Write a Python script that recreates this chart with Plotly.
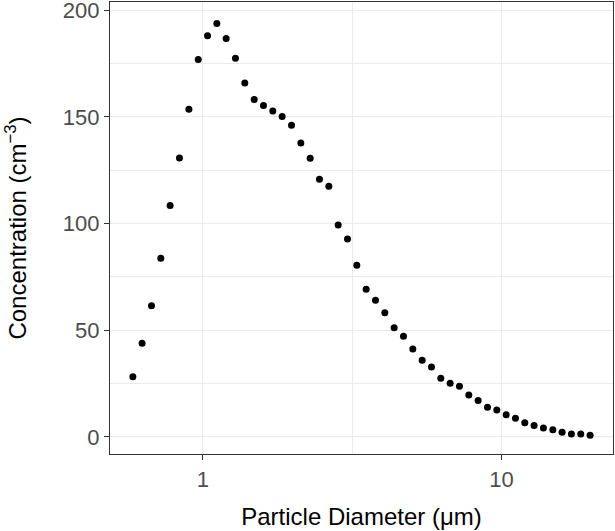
"""
Distribución de tamaño de partículas (APS) — scatter con eje x logarítmico.
"""
import plotly.graph_objects as go

# ── Datos ────────────────────────────────────────────────────────────────────
diameter_um = [
    0.583, 0.626, 0.673, 0.723, 0.777, 0.835, 0.898, 0.965, 1.037, 1.114,
    1.197, 1.286, 1.382, 1.486, 1.596, 1.715, 1.843, 1.981, 2.129, 2.288,
    2.458, 2.642, 2.839, 3.051, 3.278, 3.523, 3.786, 4.068, 4.371, 4.698,
    5.048, 5.425, 5.829, 6.264, 6.732, 7.234, 7.774, 8.354, 8.977, 9.647,
    10.37, 11.14, 11.97, 12.86, 13.82, 14.86, 15.96, 17.15, 18.43, 19.81,
]
concentration = [
    28.2, 43.9, 61.5, 83.7, 108.5, 130.7, 153.6, 176.9, 188.0, 193.7,
    186.7, 177.5, 165.9, 158.1, 155.3, 152.7, 150.2, 146.1, 137.7, 130.6,
    120.8, 117.5, 99.3, 92.8, 80.4, 69.2, 64.1, 58.2, 51.2, 47.2,
    41.2, 35.9, 32.8, 27.5, 25.1, 23.7, 19.7, 17.1, 13.9, 12.6,
    10.4, 8.7, 6.7, 5.3, 4.2, 3.4, 2.2, 1.4, 1.4, 0.8,
]
x_ticks = [1, 10]
y_ticks = [0, 50, 100, 150, 200]

# ── Estilo (tipo theme_bw) ───────────────────────────────────────────────────
C = {
    "point":  "#000000",
    "border": "#333333",
    "grid":   "#EBEBEB",
    "tick":   "#4D4D4D",
    "title":  "#000000",
}
FONT = "Liberation Sans, Arial, Helvetica, sans-serif"

fig = go.Figure()

fig.add_trace(go.Scatter(
    x=diameter_um, y=concentration,
    mode="markers",
    marker=dict(color=C["point"], size=7),
    showlegend=False,
))

_axis = dict(
    showline=True, linecolor=C["border"], linewidth=1.3, mirror=True,
    ticks="outside", ticklen=5, tickwidth=1.3, tickcolor=C["border"],
    gridcolor=C["grid"], gridwidth=1.3, zeroline=False,
    automargin=False, ticklabeloverflow="allow",
    tickfont=dict(size=22, color=C["tick"], family=FONT),
)

fig.update_layout(
    width=615, height=531,
    paper_bgcolor="white", plot_bgcolor="white",
    margin=dict(l=110, r=2, t=2, b=77),
    font=dict(family=FONT),
    xaxis=dict(
        type="log", range=[-0.3109, 1.3735],
        tickmode="array", tickvals=x_ticks, ticktext=[str(v) for v in x_ticks],
        minor=dict(tickmode="array", tickvals=[10 ** 0.5], showgrid=True,
                   gridcolor=C["grid"], gridwidth=0.7, ticks=""),
        title=dict(text="Particle Diameter (μm)", standoff=17,
                   font=dict(size=24, color=C["title"], family=FONT)),
        **_axis,
    ),
    yaxis=dict(
        range=[-8.0, 203.8],
        tickmode="array", tickvals=y_ticks,
        minor=dict(tickmode="array", tickvals=[25, 75, 125, 175], showgrid=True,
                   gridcolor=C["grid"], gridwidth=0.7, ticks=""),
        title=dict(text="Concentration (cm<sup>−3</sup>)", standoff=29,
                   font=dict(size=24, color=C["title"], family=FONT)),
        **_axis,
    ),
)

# sin margen del body para que la figura quede en (0, 0)
fig.write_html(
    "out.html",
    config={"displayModeBar": False},
    post_script="document.body.style.margin='0';",
)
